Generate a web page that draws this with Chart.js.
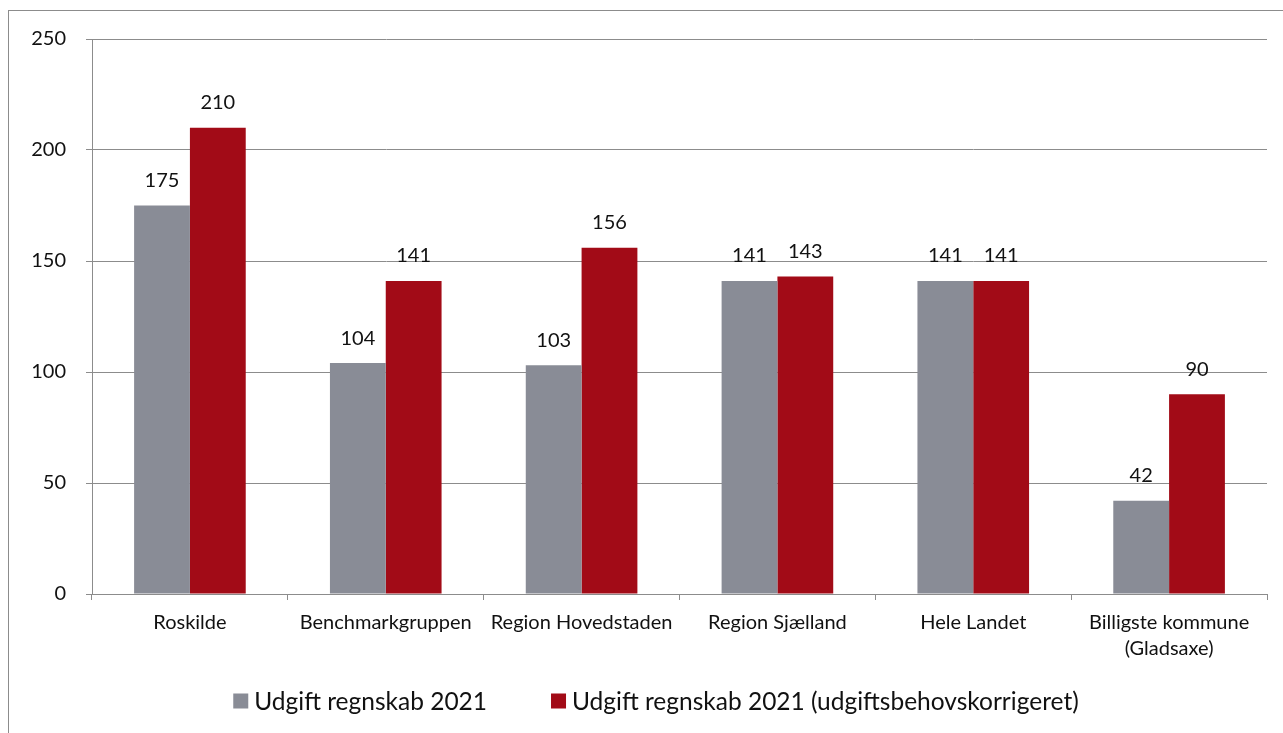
<!DOCTYPE html>
<html>
<head>
<meta charset="utf-8">
<script src="https://cdn.jsdelivr.net/npm/chart.js@4/dist/chart.umd.min.js"></script>
<style>
  html, body { margin: 0; padding: 0; background: #fff; }
  #wrap { position: relative; width: 1283px; height: 733px; overflow: hidden; }
  #frame { position: absolute; left: 8px; top: 10px; width: 1300px; height: 760px; border: 1px solid #8c8c8c; box-sizing: border-box; }
  canvas { position: absolute; left: 0; top: 0; }
</style>
</head>
<body>
<div id="wrap">
  <div id="frame"></div>
  <canvas id="chart" width="1283" height="733"></canvas>
</div>
<script>
// --- DATI ---
const categories = [
    "Roskilde",
    "Benchmarkgruppen",
    "Region Hovedstaden",
    "Region Sjælland",
    "Hele Landet",
    ["Billigste kommune", "(Gladsaxe)"]
];
const seriesNames = ["Udgift regnskab 2021", "Udgift regnskab 2021 (udgiftsbehovskorrigeret)"];
const udgift = [175, 104, 103, 141, 141, 42];
const udgiftKorr = [210, 141, 156, 143, 141, 90];
const yTicks = [0, 50, 100, 150, 200, 250];

const FONT = "Lato, 'Open Sans', sans-serif";

// etichette sopra le barre
const valueLabels = {
    id: 'valueLabels',
    afterDatasetsDraw(chart) {
        const ctx = chart.ctx;
        ctx.save();
        ctx.font = "20px " + FONT;
        ctx.fillStyle = "#111";
        ctx.textAlign = "center";
        ctx.textBaseline = "middle";
        chart.data.datasets.forEach((ds, i) => {
            chart.getDatasetMeta(i).data.forEach((bar, j) => {
                ctx.fillText(String(ds.data[j]), bar.x, bar.y - 25);
            });
        });
        ctx.restore();
    }
};

// legenda in basso, disegnata a mano (spaziatura orizzontale come nell'originale)
const bottomLegend = {
    id: 'bottomLegend',
    afterDraw(chart) {
        const ctx = chart.ctx;
        const box = 15, gapText = 6, gapItem = 64, centerX = 656, y = 701;
        ctx.save();
        ctx.font = "24.5px " + FONT;
        ctx.textBaseline = "middle";
        ctx.textAlign = "left";
        const items = chart.data.datasets.map(ds => ({ text: ds.label, color: ds.backgroundColor, w: ctx.measureText(ds.label).width }));
        const total = items.reduce((s, it) => s + box + gapText + it.w, 0) + gapItem * (items.length - 1);
        let x = centerX - total / 2;
        items.forEach(it => {
            ctx.fillStyle = it.color;
            ctx.fillRect(x, y - box / 2, box, box);
            ctx.fillStyle = "#111";
            ctx.fillText(it.text, x + box + gapText, y + 1);
            x += box + gapText + it.w + gapItem;
        });
        ctx.restore();
    }
};

new Chart(document.getElementById('chart').getContext('2d'), {
    type: 'bar',
    data: {
        labels: categories,
        datasets: [
            { label: seriesNames[0], data: udgift, backgroundColor: '#898c96', barPercentage: 1, categoryPercentage: 0.57 },
            { label: seriesNames[1], data: udgiftKorr, backgroundColor: '#a20b17', barPercentage: 1, categoryPercentage: 0.57 }
        ]
    },
    options: {
        responsive: false,
        animation: false,
        layout: { padding: { left: 10, right: 16, top: 39, bottom: 0 } },
        plugins: {
            tooltip: { enabled: false },
            legend: { display: false }
        },
        scales: {
            y: {
                min: 0,
                max: 250,
                afterBuildTicks(scale) { scale.ticks = yTicks.map(v => ({ value: v })); },
                afterFit(scale) { scale.width = 82; },
                grid: { color: '#8c8c8c', lineWidth: 1, tickLength: 6 },
                border: { color: '#8c8c8c' },
                ticks: { color: '#111', padding: 20, font: { family: FONT, size: 20 } }
            },
            x: {
                afterFit(scale) { scale.height = 139; },
                grid: { drawOnChartArea: false, color: '#8c8c8c', tickLength: 6, offset: true },
                border: { color: '#8c8c8c' },
                ticks: { color: '#111', padding: 10, maxRotation: 0, autoSkip: false, font: { family: FONT, size: 20, lineHeight: 1.3 } }
            }
        }
    },
    plugins: [valueLabels, bottomLegend]
});
</script>
</body>
</html>
